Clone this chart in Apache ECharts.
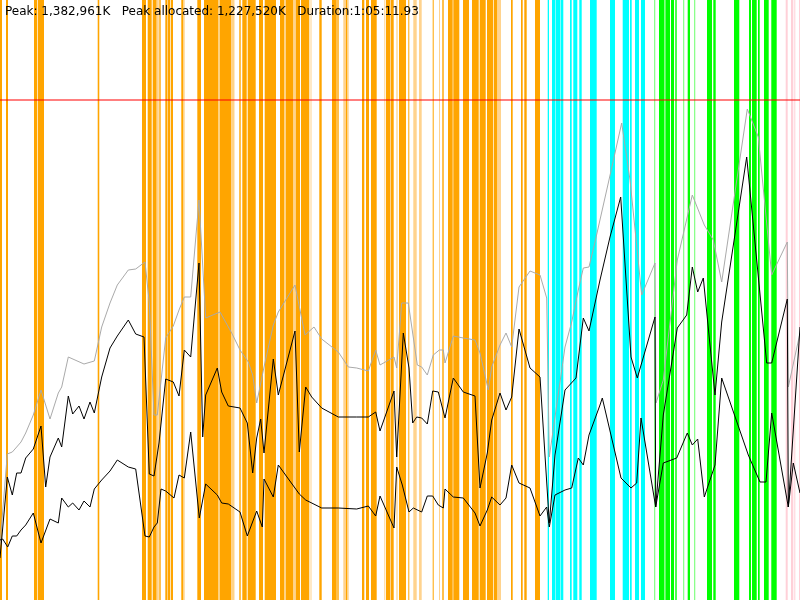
<!DOCTYPE html>
<html>
<head>
<meta charset="utf-8">
<script src="https://cdn.jsdelivr.net/npm/echarts@6/dist/echarts.min.js"></script>
<style>html,body{margin:0;padding:0;background:#fff}#c{width:800px;height:600px}</style>
</head>
<body>
<div id="c"></div>
<script>
// ---- data (x = time sample, y = memory level in plot units, inverted) ----
const headerTexts = ['Peak: 1,382,961K', 'Peak allocated: 1,227,520K', 'Duration:1:05:11.93'];
const xRange = [0, 800];
const yRange = [0, 600];
const peakLevel = 100;

const orangeBars = [[0,2],[6,8],[34,37],[37.7,44],[97.7,99.3],[142,146],[147.7,151.7],[152.7,156.7],[159.3,160.7],
  [165.3,167.3],[167.7,170],[170.7,173],[181.3,183.5],[197.3,200],
  [200,201],[204,218.5],[219.5,231],[232.5,233.5],[239.3,240.7],[242.3,246.7],[247.7,255.7],[259,263],[264.7,276],
  [280,284.5],[285.5,293.5],[295.5,300],[301,309.3],[319.3,321.7],[332,336.7],[337.3,338.7],[346,347.5],
  [362,364.3],[366,369],[371,376.7],[386,390],[391,393.7],[396.7,397.3],[399,400],
  [400,406],[408.3,409.3],[432.7,433.7],[442.3,443.7],[448,452.7],[453.3,459.3],[463,469],[472,478.7],
  [479.7,485.7],[487,493],[493.7,497.5],[511,512.7],[521,522.7],[524.3,526.7],[535,540]];
const lightOrangeBars = [[156.7,158.8],[183.5,184.7],[231,232.5],[233.5,234.5],[284.5,285.5],[293.5,295],[310.5,311.5],
  [343.3,346],[347.5,348.7],[384.3,385.3],[390,391],[413.3,416.7],[419,421.7],[439,440],[497.5,501]];
const cyanBars = [[547.7,549],[552,555.5],[556,560],[560.5,563.3],[570,571.7],[573.3,577.3],[579.3,581.7],[590,596.7],
  [610,615],[622.7,629],[630,631.7],[635,639],[641,645]];
const greenBars = [[659,664.5],[665.3,670],[671,674],[675.3,676.7],[687.7,690],[707,712],[713.3,715.7],
  [734,739.3],[749,751],[752,756.7],[758,759.7],[764,768.7],[771.3,776.7]];
const lightGreenBars = [[654,655.3],[664.5,665.3],[683,684.3],[694,695.3]];
const pinkBars = [[785.7,787.7],[791,793.3],[794.3,795.3],[799,800]];

const grayLine = [[0,545],[7.3,454],[12.3,452],[16.7,447],[21,442],[25.7,433],[33.3,415],[41,390],[50,419],[58.3,393],
  [61.7,387],[68.3,357],[84,364],[94.3,361],[101.7,327],[110,303],[117.3,285],[128.3,270],[135.7,269],[145,262],
  [149.3,303],[154,415],[157.3,415],[165.7,338],[173.3,326],[179,310],[184.3,297],[190.7,297],[199,200],
  [205.7,318],[220,312],[231.7,333],[240,350],[248.3,362],[252.7,375],[256.7,403],[264,367],[273.3,325],[278.3,312],
  [295,285],[305,335],[314,327],[321.7,339],[338.3,352],[348.3,367],[356.7,368],[368.3,371],[375.7,350],[380,365],
  [394,357],[396.7,368],[401.7,303],[408.3,303],[417.3,365],[421.7,367],[427.3,375],[433.3,355],[439.3,350],
  [443.3,350],[445,363],[453.3,336],[463.3,338],[475,340],[480,353],[488.3,390],[491.7,367],[500,345],[506,333],
  [511.7,347],[519,287],[530,271],[540,275],[546.7,298],[549.3,457],[565,347],[571.7,322],[578.3,290],[583.3,268],
  [589,267],[595,242],[608.3,183],[621.7,123],[630,180],[641.7,295],[655,263],[656,403],[663.3,380],[677.3,260],
  [692.3,195],[704.3,225],[713.3,240],[721.7,282],[747.3,109],[758.3,137],[771.7,275],[787.3,242],[788.3,387],[800,333]];

const upperLine = [[0,558],[7.3,477],[12.3,495],[16.7,473],[21,473],[25.7,458],[33.3,449],[41,426],[45.7,487],[50,457],
  [58.3,438],[61.7,447],[68.3,396],[72.7,414],[79,406],[84,419],[90,402],[94.3,413],[101.7,377],[110,348],[117.3,336],
  [128.3,320],[135.7,334],[144,337],[149.3,474],[154,476],[159,443],[165.7,379],[173.3,382],[179,396],[184.3,350],
  [190.7,357],[199,263],[202.7,437],[205.7,395],[217.3,368],[221.7,392],[228.3,406],[240,408],[247.3,423],[252.7,473],
  [256.7,438],[260.7,419],[264,453],[273.3,359],[278.3,395],[295,331],[299.3,452],[305.7,387],[311.7,397],[321.7,408],
  [338.3,417],[356.7,417],[368.3,417],[375.7,412],[380,431],[394,391],[396.7,457],[403.3,333],[409,368],[412.7,423],
  [416.7,417],[421.7,418],[427.3,424],[432.7,391],[438.3,392],[445,418],[453.3,378],[463.3,392],[475,396],[480,488],
  [487.3,453],[491.7,420],[500,393],[506,410],[511.7,397],[519,329],[530,368],[540,377],[549.3,523],[555,455],[565,390],
  [576,378],[583.3,318],[589,331],[600,280],[610,237],[620.7,197],[631,357],[637.3,378],[655,317],[655.7,507],
  [663.3,415],[677.3,328],[686.7,315],[692.3,267],[697.7,292],[703.3,278],[715,395],[721.7,322],[746.7,157],
  [766.7,363],[771.7,363],[787.3,299],[788.3,507],[800,327]];

const lowerLine = [[0,540],[2.7,539],[7.7,547],[12.3,536],[16.7,536],[21,530],[25.7,525],[33.3,513],[41,543],[50,519],
  [58.3,523],[61.7,498],[68.3,507],[72.7,503],[79,510],[84,501],[90,507],[94.3,489],[101.7,480],[110,471],[117.3,460],
  [128.3,467],[135.7,469],[145,536],[149.3,537],[154,527],[157.3,523],[161,489],[165.7,491],[174,498],[179,475],
  [184.3,478],[190.7,432],[199.3,518],[205.7,484],[217.3,495],[221.7,503],[228.3,504],[240,512],[247.3,536],
  [256.7,511],[262.3,527],[264,479],[273.3,497],[278.3,465],[299.3,494],[305.7,500],[321.7,508],[338.3,508],
  [356.7,509],[368.3,506],[375.7,516],[380,496],[394,528],[396.7,467],[402.3,485],[409,512],[413.3,508],[421.7,512],
  [427.3,496],[432.7,496],[438.3,505],[443.3,508],[445,489],[453.3,497],[463.3,498],[475,513],[480,526],[487.3,510],
  [491.7,497],[500,505],[506,498],[511.7,465],[519,483],[530,488],[540,516],[546.7,507],[549.3,527],[555,495],
  [565,490],[571.7,488],[578.3,458],[583.3,465],[589,435],[600,405],[602.3,398],[621,478],[631,488],[636.7,483],
  [641,418],[655.7,507],[663.3,463],[676.7,458],[687.3,433],[692.3,445],[697.7,439],[704.3,497],[715,465],
  [721.7,378],[748.3,455],[760,482],[766,482],[771.7,413],[788.3,507],[793.3,463],[800,493]];

// ---- chart ----
function bandSeries(name, bars, color) {
  return {
    type: 'custom', name: name, data: bars, encode: { x: [0, 1] }, z: 1, silent: true,
    renderItem: function (params, api) {
      const a = api.coord([api.value(0), 0]);
      const b = api.coord([api.value(1), 0]);
      const cs = params.coordSys;
      return { type: 'rect', shape: { x: a[0], y: cs.y, width: Math.max(b[0] - a[0], 0.5), height: cs.height },
        style: { fill: color } };
    }
  };
}
function lineSeries(name, pts, color, z) {
  return { type: 'line', name: name, data: pts, showSymbol: false, symbol: 'none', z: z, silent: true,
    lineStyle: { color: color, width: 1 } };
}
const chart = echarts.init(document.getElementById('c'), null, { renderer: 'canvas' });
chart.setOption({
  animation: false,
  backgroundColor: '#ffffff',
  grid: { left: 0, right: 0, top: 0, bottom: 0 },
  xAxis: { type: 'value', min: xRange[0], max: xRange[1], show: false },
  yAxis: { type: 'value', min: yRange[0], max: yRange[1], inverse: true, show: false },
  graphic: [{
    type: 'text', left: 5, top: 6, z: 100,
    style: { text: headerTexts.join('   '), fill: '#000', font: '12px "DejaVu Sans"' }
  }],
  series: [
    bandSeries('orange', orangeBars, '#FFA500'),
    bandSeries('lightOrange', lightOrangeBars, '#FFD38E'),
    bandSeries('cyan', cyanBars, '#00FFFF'),
    bandSeries('green', greenBars, '#00FF00'),
    bandSeries('lightGreen', lightGreenBars, '#8CFF8C'),
    bandSeries('pink', pinkBars, '#FFD0D8'),
    { type: 'line', name: 'peak', data: [[xRange[0], peakLevel], [xRange[1], peakLevel]], showSymbol: false,
      symbol: 'none', z: 3, silent: true, lineStyle: { color: 'rgba(255,0,0,0.5)', width: 2 } },
    lineSeries('total', grayLine, '#AAAAAA', 4),
    lineSeries('used', upperLine, '#000000', 5),
    lineSeries('live', lowerLine, '#000000', 5)
  ]
});
</script>
</body>
</html>
